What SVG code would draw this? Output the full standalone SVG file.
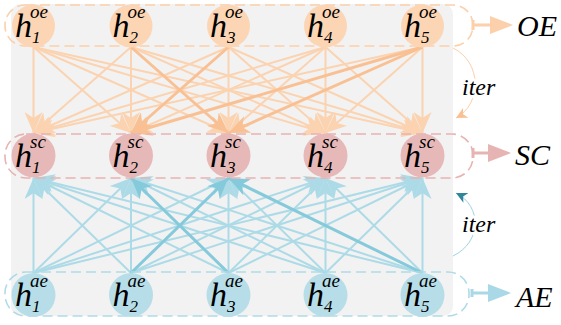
<svg xmlns="http://www.w3.org/2000/svg" width="561" height="325" viewBox="0 0 561 325">
<style>
text{font-family:"Liberation Serif","DejaVu Serif","Times New Roman",serif;font-style:italic;fill:#000}
.h{font-size:34px}
.sup{font-size:19px}
.sub{font-size:17px}
.lbl{font-size:30px}
.iter{font-size:24px;stroke:#fff;stroke-width:6;paint-order:stroke;stroke-linejoin:round}
.oe{stroke:#fbd3b0;stroke-width:2;fill:none;marker-end:url(#mOE)}
.oeE{stroke:#f9c193;stroke-width:3;fill:none;marker-end:url(#mOEE)}
.ae{stroke:#acdbe7;stroke-width:2;fill:none;marker-end:url(#mAE)}
.aeE{stroke:#85cadb;stroke-width:3;fill:none;marker-end:url(#mAEE)}
.dOE{fill:none;stroke:#fbd0aa;stroke-width:1.6;stroke-dasharray:10 5}
.dSC{fill:none;stroke:#e8b3b1;stroke-width:1.6;stroke-dasharray:10 5}
.dAE{fill:none;stroke:#afdbe7;stroke-width:1.6;stroke-dasharray:10 5}
</style>
<defs>
<marker id="mOE" viewBox="-21 -9 21 18" refX="0" refY="0" markerWidth="21" markerHeight="18" markerUnits="userSpaceOnUse" orient="auto"><path d="M0,0 L-21,-9 L-15,0 L-21,9 Z" fill="#fbd3b0"/></marker>
<marker id="mOEE" viewBox="-21 -9 21 18" refX="0" refY="0" markerWidth="21" markerHeight="18" markerUnits="userSpaceOnUse" orient="auto"><path d="M0,0 L-21,-9 L-15,0 L-21,9 Z" fill="#f9c193"/></marker>
<marker id="mAE" viewBox="-21 -9 21 18" refX="0" refY="0" markerWidth="21" markerHeight="18" markerUnits="userSpaceOnUse" orient="auto"><path d="M0,0 L-21,-9 L-15,0 L-21,9 Z" fill="#acdbe7"/></marker>
<marker id="mAEE" viewBox="-21 -9 21 18" refX="0" refY="0" markerWidth="21" markerHeight="18" markerUnits="userSpaceOnUse" orient="auto"><path d="M0,0 L-21,-9 L-15,0 L-21,9 Z" fill="#85cadb"/></marker>
<marker id="mIterO" viewBox="-11 -5.5 11 11" refX="0" refY="0" markerWidth="11" markerHeight="11" markerUnits="userSpaceOnUse" orient="auto"><path d="M0,0 L-11,-5.5 L-8,0 L-11,5.5 Z" fill="#f9c193"/></marker>
<marker id="mIterA" viewBox="-11 -5.5 11 11" refX="0" refY="0" markerWidth="11" markerHeight="11" markerUnits="userSpaceOnUse" orient="auto"><path d="M0,0 L-11,-5.5 L-8,0 L-11,5.5 Z" fill="#31859c"/></marker>
</defs>

<rect id="background" x="11" y="4" width="442" height="312" rx="10" fill="#f2f2f2"/>

<g id="connectors">
<g id="oe-to-sc">
<line class="oe" x1="33.5" y1="47" x2="33.5" y2="133"/>
<line class="oe" x1="33.5" y1="47" x2="131" y2="133"/>
<line class="oe" x1="33.5" y1="47" x2="228.5" y2="133"/>
<line class="oe" x1="33.5" y1="47" x2="325.5" y2="133"/>
<line class="oe" x1="33.5" y1="47" x2="422.5" y2="133"/>
<line class="oe" x1="131" y1="47" x2="33.5" y2="133"/>
<line class="oe" x1="131" y1="47" x2="131" y2="133"/>
<line class="oe" x1="131" y1="47" x2="325.5" y2="133"/>
<line class="oe" x1="131" y1="47" x2="422.5" y2="133"/>
<line class="oe" x1="228.5" y1="47" x2="33.5" y2="133"/>
<line class="oe" x1="228.5" y1="47" x2="228.5" y2="133"/>
<line class="oe" x1="228.5" y1="47" x2="325.5" y2="133"/>
<line class="oe" x1="228.5" y1="47" x2="422.5" y2="133"/>
<line class="oe" x1="325.5" y1="47" x2="33.5" y2="133"/>
<line class="oe" x1="325.5" y1="47" x2="131" y2="133"/>
<line class="oe" x1="325.5" y1="47" x2="228.5" y2="133"/>
<line class="oe" x1="325.5" y1="47" x2="325.5" y2="133"/>
<line class="oe" x1="325.5" y1="47" x2="422.5" y2="133"/>
<line class="oe" x1="422.5" y1="47" x2="33.5" y2="133"/>
<line class="oe" x1="422.5" y1="47" x2="325.5" y2="133"/>
<line class="oe" x1="422.5" y1="47" x2="422.5" y2="133"/>
<line class="oeE" x1="131" y1="47" x2="228.5" y2="133"/>
<line class="oeE" x1="228.5" y1="47" x2="131" y2="133"/>
<line class="oeE" x1="422.5" y1="47" x2="131" y2="133"/>
<line class="oeE" x1="422.5" y1="47" x2="228.5" y2="133"/>
</g>
<g id="ae-to-sc">
<line class="ae" x1="33.5" y1="273" x2="33.5" y2="178"/>
<line class="ae" x1="33.5" y1="273" x2="131" y2="178"/>
<line class="ae" x1="33.5" y1="273" x2="228.5" y2="178"/>
<line class="ae" x1="33.5" y1="273" x2="325.5" y2="178"/>
<line class="ae" x1="33.5" y1="273" x2="422.5" y2="178"/>
<line class="ae" x1="131" y1="273" x2="33.5" y2="178"/>
<line class="ae" x1="131" y1="273" x2="131" y2="178"/>
<line class="ae" x1="131" y1="273" x2="325.5" y2="178"/>
<line class="ae" x1="131" y1="273" x2="422.5" y2="178"/>
<line class="ae" x1="228.5" y1="273" x2="33.5" y2="178"/>
<line class="ae" x1="228.5" y1="273" x2="228.5" y2="178"/>
<line class="ae" x1="228.5" y1="273" x2="325.5" y2="178"/>
<line class="ae" x1="228.5" y1="273" x2="422.5" y2="178"/>
<line class="ae" x1="325.5" y1="273" x2="33.5" y2="178"/>
<line class="ae" x1="325.5" y1="273" x2="131" y2="178"/>
<line class="ae" x1="325.5" y1="273" x2="228.5" y2="178"/>
<line class="ae" x1="325.5" y1="273" x2="325.5" y2="178"/>
<line class="ae" x1="325.5" y1="273" x2="422.5" y2="178"/>
<line class="ae" x1="422.5" y1="273" x2="33.5" y2="178"/>
<line class="ae" x1="422.5" y1="273" x2="131" y2="178"/>
<line class="ae" x1="422.5" y1="273" x2="325.5" y2="178"/>
<line class="ae" x1="422.5" y1="273" x2="422.5" y2="178"/>
<line class="aeE" x1="131" y1="273" x2="228.5" y2="178"/>
<line class="aeE" x1="228.5" y1="273" x2="131" y2="178"/>
<line class="aeE" x1="422.5" y1="273" x2="228.5" y2="178"/>
</g>
<g id="iter-arcs">
<path d="M453,48 C482,62 482,104 456,118" fill="none" stroke="#fbd0aa" stroke-width="1" marker-end="url(#mIterO)"/>
<path d="M453,256 C482,242 482,206 456,193" fill="none" stroke="#9fd3e2" stroke-width="1" marker-end="url(#mIterA)"/>
</g>
<g id="output-arrows">
<path d="M473,20 V30 M473,25 H492" stroke="#fbd0aa" stroke-width="3" fill="none"/>
<path d="M513,25 L490,16 L490,34 Z" fill="#fbd0aa"/>
<path d="M473,148 V158 M473,153 H492" stroke="#e6b5b3" stroke-width="3" fill="none"/>
<path d="M511,153 L488,144 L488,162 Z" fill="#e6b5b3"/>
<path d="M472,289 V297 M472,293 H492" stroke="#a9d8e6" stroke-width="3" fill="none"/>
<path d="M511,293 L488,284 L488,302 Z" fill="#a9d8e6"/>
</g>
</g>

<g id="group-OE">
<rect class="dOE" x="5" y="5" width="468" height="41" rx="20"/>
</g>
<g id="group-SC">
<rect class="dSC" x="5" y="134" width="468" height="44" rx="21"/>
</g>
<g id="group-AE">
<rect class="dAE" x="5" y="272" width="464" height="44" rx="21"/>
</g>

<g id="h1-oe"><circle cx="33.5" cy="26" r="21.5" fill="#fcd5b5"/><text class="h" x="15" y="37">h</text><text class="sup" x="30" y="18">oe</text><text class="sub" x="32" y="43">1</text></g>
<g id="h2-oe"><circle cx="131" cy="26" r="21.5" fill="#fcd5b5"/><text class="h" x="112.5" y="37">h</text><text class="sup" x="127.5" y="18">oe</text><text class="sub" x="129.5" y="43">2</text></g>
<g id="h3-oe"><circle cx="228.5" cy="26" r="21.5" fill="#fcd5b5"/><text class="h" x="210" y="37">h</text><text class="sup" x="225" y="18">oe</text><text class="sub" x="227" y="43">3</text></g>
<g id="h4-oe"><circle cx="325.5" cy="26" r="21.5" fill="#fcd5b5"/><text class="h" x="307" y="37">h</text><text class="sup" x="322" y="18">oe</text><text class="sub" x="324" y="43">4</text></g>
<g id="h5-oe"><circle cx="422.5" cy="26" r="21.5" fill="#fcd5b5"/><text class="h" x="404" y="37">h</text><text class="sup" x="419" y="18">oe</text><text class="sub" x="421" y="43">5</text></g>

<g id="h1-sc"><circle cx="33.5" cy="155.5" r="22" fill="#e6b9b8"/><text class="h" x="15" y="166.5">h</text><text class="sup" x="30" y="147.5">sc</text><text class="sub" x="32" y="172.5">1</text></g>
<g id="h2-sc"><circle cx="131" cy="155.5" r="22" fill="#e6b9b8"/><text class="h" x="112.5" y="166.5">h</text><text class="sup" x="127.5" y="147.5">sc</text><text class="sub" x="129.5" y="172.5">2</text></g>
<g id="h3-sc"><circle cx="228.5" cy="155.5" r="22" fill="#e6b9b8"/><text class="h" x="210" y="166.5">h</text><text class="sup" x="225" y="147.5">sc</text><text class="sub" x="227" y="172.5">3</text></g>
<g id="h4-sc"><circle cx="325.5" cy="155.5" r="22" fill="#e6b9b8"/><text class="h" x="307" y="166.5">h</text><text class="sup" x="322" y="147.5">sc</text><text class="sub" x="324" y="172.5">4</text></g>
<g id="h5-sc"><circle cx="422.5" cy="155.5" r="22" fill="#e6b9b8"/><text class="h" x="404" y="166.5">h</text><text class="sup" x="419" y="147.5">sc</text><text class="sub" x="421" y="172.5">5</text></g>

<g id="h1-ae"><circle cx="33.5" cy="295" r="22" fill="#b7dee8"/><text class="h" x="15" y="306">h</text><text class="sup" x="30" y="287">ae</text><text class="sub" x="32" y="312">1</text></g>
<g id="h2-ae"><circle cx="131" cy="295" r="22" fill="#b7dee8"/><text class="h" x="112.5" y="306">h</text><text class="sup" x="127.5" y="287">ae</text><text class="sub" x="129.5" y="312">2</text></g>
<g id="h3-ae"><circle cx="228.5" cy="295" r="22" fill="#b7dee8"/><text class="h" x="210" y="306">h</text><text class="sup" x="225" y="287">ae</text><text class="sub" x="227" y="312">3</text></g>
<g id="h4-ae"><circle cx="325.5" cy="295" r="22" fill="#b7dee8"/><text class="h" x="307" y="306">h</text><text class="sup" x="322" y="287">ae</text><text class="sub" x="324" y="312">4</text></g>
<g id="h5-ae"><circle cx="422.5" cy="295" r="22" fill="#b7dee8"/><text class="h" x="404" y="306">h</text><text class="sup" x="419" y="287">ae</text><text class="sub" x="421" y="312">5</text></g>

<g id="label-OE"><text class="lbl" x="517" y="36">OE</text></g>
<g id="label-SC"><text class="lbl" x="515" y="165">SC</text></g>
<g id="label-AE"><text class="lbl" x="516" y="307">AE</text></g>
<g id="label-iter-top"><text class="iter" x="462" y="95">iter</text></g>
<g id="label-iter-bottom"><text class="iter" x="462" y="232">iter</text></g>
</svg>
